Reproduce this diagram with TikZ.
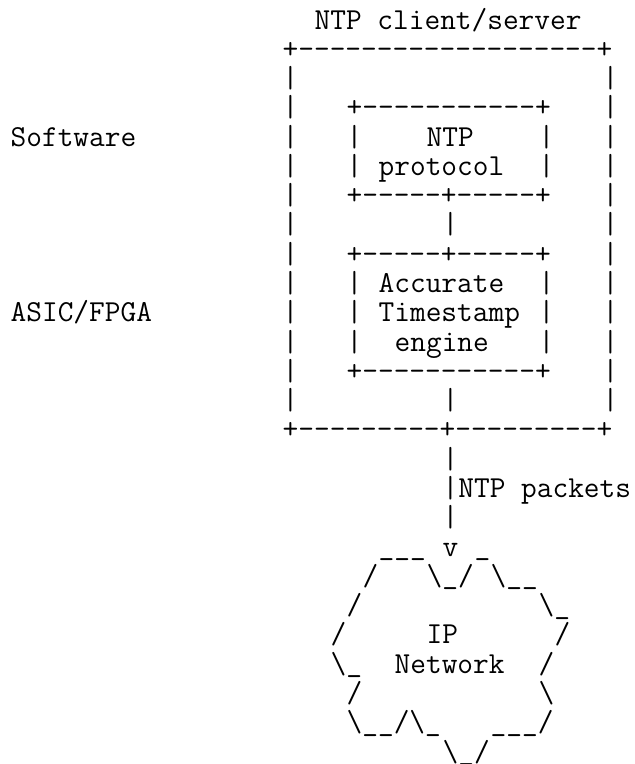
\documentclass[tikz,border=0pt]{standalone}
\usepackage{fontspec}
\setmonofont{Latin Modern Mono}
\newcommand\bs{{\char"5C}}
\newcommand\us{\raisebox{1pt}{\char"5F}}
\tikzset{asc/.style={anchor=base west,inner sep=0pt,outer sep=0pt,
  font=\ttfamily\fontsize{22.857pt}{26pt}\selectfont,text=black}}
\newcommand\asc[4]{\node[asc] (#1) at ({10.7+16*#2},{29+29.28*#3}) {#4};}
\begin{document}
\begin{tikzpicture}[x=0.75pt,y=-0.75pt]
\useasboundingbox[fill=white] (0,0) rectangle (635,764);
% title
\asc{title}{19}{0}{NTP client/server}
% outer box
\asc{otop}{17}{1}{+-------------------+}
\foreach \r in {2,...,13}{
  \asc{ol\r}{17}{\r}{|}
  \asc{or\r}{37}{\r}{|}
}
\asc{obot}{17}{14}{+---------+---------+}
% side labels
\asc{sw}{0}{4}{Software}
\asc{hw}{0}{10}{ASIC/FPGA}
% NTP protocol box
\asc{ptop}{21}{3}{+-----------+}
\foreach \r in {4,5}{
  \asc{pl\r}{21}{\r}{|}
  \asc{pr\r}{33}{\r}{|}
}
\asc{p1}{26}{4}{NTP}
\asc{p2}{23}{5}{protocol}
\asc{pbot}{21}{6}{+-----+-----+}
\asc{link}{27}{7}{|}
% timestamp engine box
\asc{etop}{21}{8}{+-----+-----+}
\foreach \r in {9,10,11}{
  \asc{el\r}{21}{\r}{|}
  \asc{er\r}{33}{\r}{|}
}
\asc{e1}{23}{9}{Accurate}
\asc{e2}{23}{10}{Timestamp}
\asc{e3}{24}{11}{engine}
\asc{ebot}{21}{12}{+-----------+}
\asc{link2}{27}{13}{|}
% packets line
\asc{l15}{27}{15}{|}
\asc{l16}{27}{16}{|NTP packets}
\asc{l17}{27}{17}{|}
% cloud
\asc{c18a}{23}{18}{\us\us\us}
\asc{arrow}{27}{18}{v}
\asc{c18b}{29}{18}{\us}
\asc{c19a}{22}{19}{/}
\asc{c19b}{26}{19}{\bs\us/}
\asc{c19c}{30}{19}{\bs\us\us}
\asc{c20a}{21}{20}{/}
\asc{c20b}{33}{20}{\bs\us}
\asc{c21a}{20}{21}{/}
\asc{ip}{26}{21}{IP}
\asc{c21b}{34}{21}{/}
\asc{c22a}{20}{22}{\bs\us}
\asc{net}{24}{22}{Network}
\asc{c22b}{33}{22}{/}
\asc{c23a}{21}{23}{/}
\asc{c23b}{33}{23}{\bs}
\asc{c24a}{21}{24}{\bs\us\us/\bs\us}
\asc{c24b}{30}{24}{\us\us\us/}
\asc{c25}{27}{25}{\bs\us/}
\end{tikzpicture}
\end{document}
